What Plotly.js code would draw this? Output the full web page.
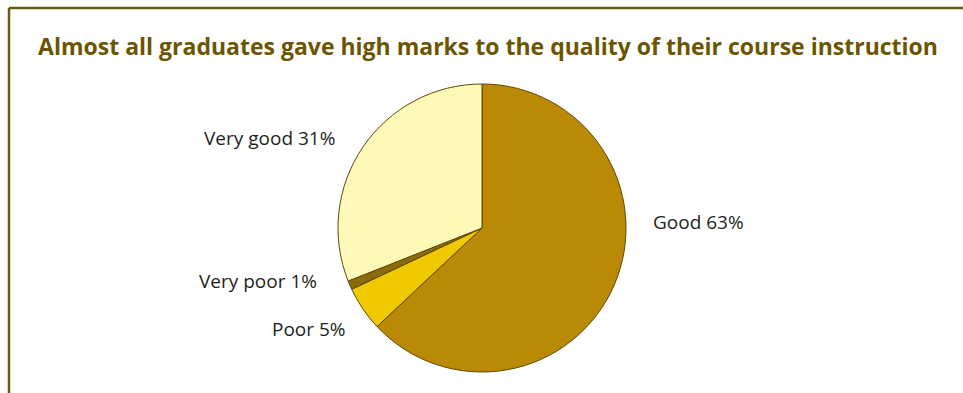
<!DOCTYPE html>
<html>
<head>
<meta charset="utf-8">
<script src="https://cdn.plot.ly/plotly-3.0.1.min.js"></script>
<style>html,body{margin:0;padding:0;background:#fff;}#chart{width:963px;height:393px;}</style>
</head>
<body>
<div id="chart"></div>
<script>
const categories = ["Good", "Poor", "Very poor", "Very good"];
const values = [63, 5, 1, 31];
const sliceColors = ["#BA8A06", "#F0C900", "#8A6A0C", "#FFF9B9"];

const labelPos = {
  "Good": {x: 651, y: 222, anchor: "left"},
  "Poor": {x: 348, y: 329, anchor: "right"},
  "Very poor": {x: 319, y: 281, anchor: "right"},
  "Very good": {x: 337, y: 138, anchor: "right"}
};

const W = 963, H = 393;
const cx = 482, cy = 228, r = 144;

const trace = {
  type: "pie",
  labels: categories,
  values: values,
  sort: false,
  direction: "clockwise",
  rotation: 0,
  marker: {colors: sliceColors, line: {color: "#5E4A00", width: 1}},
  textinfo: "none",
  hoverinfo: "label+percent",
  showlegend: false,
  domain: {x: [(cx - r) / W, (cx + r) / W], y: [1 - (cy + r) / H, 1 - (cy - r) / H]}
};

const annotations = categories.map((c, i) => ({
  xref: "paper", yref: "paper",
  x: labelPos[c].x / W, y: 1 - labelPos[c].y / H,
  xanchor: labelPos[c].anchor, yanchor: "middle",
  text: c + " " + values[i] + "%",
  showarrow: false,
  font: {family: "Open Sans, sans-serif", size: 19, color: "#231F20"}
}));

const layout = {
  width: W, height: H,
  margin: {l: 0, r: 0, t: 0, b: 0},
  paper_bgcolor: "#fff",
  title: {
    text: "<b>Almost all graduates gave high marks to the quality of their course instruction</b>",
    font: {family: "Open Sans, sans-serif", size: 23, color: "#6B5500"},
    x: 488 / W, xanchor: "center", y: 1 - 47 / H, yanchor: "middle"
  },
  annotations: annotations,
  shapes: [
    {type: "line", xref: "paper", yref: "paper", x0: 9 / W, x1: 1, y0: 1 - 8 / H, y1: 1 - 8 / H, line: {color: "#6B5A12", width: 2.5}},
    {type: "line", xref: "paper", yref: "paper", x0: 9 / W, x1: 9 / W, y0: 1 - 8 / H, y1: 0, line: {color: "#6B5A12", width: 2.5}}
  ]
};

Plotly.newPlot("chart", [trace], layout, {displayModeBar: false, staticPlot: true});
</script>
</body>
</html>
